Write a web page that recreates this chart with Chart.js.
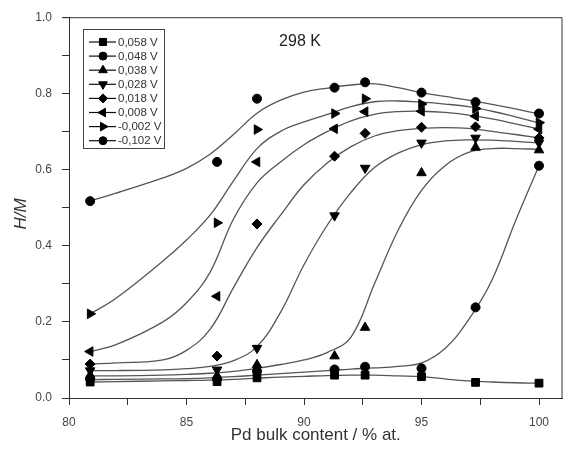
<!DOCTYPE html>
<html>
<head>
<meta charset="utf-8">
<script src="https://cdn.jsdelivr.net/npm/chart.js@4.4.0/dist/chart.umd.min.js"></script>
<style>
  html, body { margin: 0; padding: 0; background: #fff; }
  #wrap { width: 569px; height: 453px; }
</style>
</head>
<body>
<div id="wrap"><canvas id="chart" width="569" height="453"></canvas></div>
<script>
// ---- measured points (Pd bulk content, H/M) ----
const contentX = [80.9, 86.3, 88.0, 91.3, 92.6, 95.0, 97.3, 100.0];
const hm_058  = [0.042, 0.043, 0.053, 0.060, 0.060, 0.056, 0.041, 0.039];
const hm_048  = [0.050, 0.050, 0.070, 0.075, 0.082, 0.078, 0.238, 0.610];
const hm_038  = [0.060, 0.058, 0.087, 0.110, 0.185, 0.591, 0.658, 0.651];
const hm_028  = [0.072, 0.074, 0.131, 0.479, 0.604, 0.670, 0.683, 0.670];
const hm_018  = [0.089, 0.110, 0.457, 0.635, 0.695, 0.711, 0.712, 0.683];
const hm_008  = [0.122, 0.267, 0.620, 0.707, 0.752, 0.753, 0.740, 0.706];
const hm_m002 = [0.221, 0.460, 0.705, 0.747, 0.786, 0.772, 0.760, 0.723];
const hm_m102 = [0.517, 0.620, 0.786, 0.815, 0.829, 0.802, 0.777, 0.747];

// ---- fitted curves ----
const fitX = [80.9, 82, 84, 85, 86, 87, 88, 89, 90, 91, 92, 93, 94, 95, 96, 97, 98, 99, 100];
const fit_058  = [0.042, 0.043, 0.045, 0.046, 0.047, 0.049, 0.052, 0.055, 0.057, 0.059, 0.060, 0.060, 0.058, 0.056, 0.050, 0.045, 0.042, 0.040, 0.039];
const fit_048  = [0.048, 0.049, 0.050, 0.051, 0.053, 0.056, 0.060, 0.064, 0.068, 0.072, 0.076, 0.079, 0.083, 0.092, 0.130, 0.205, 0.310, 0.465, 0.610];
const fit_038  = [0.058, 0.058, 0.060, 0.062, 0.065, 0.070, 0.078, 0.088, 0.100, 0.120, 0.160, 0.300, 0.440, 0.545, 0.610, 0.645, 0.655, 0.655, 0.653];
const fit_028  = [0.072, 0.072, 0.074, 0.077, 0.083, 0.098, 0.135, 0.225, 0.350, 0.455, 0.540, 0.605, 0.643, 0.665, 0.675, 0.678, 0.677, 0.674, 0.670];
const fit_018  = [0.089, 0.092, 0.100, 0.125, 0.180, 0.290, 0.395, 0.480, 0.560, 0.618, 0.660, 0.688, 0.702, 0.708, 0.710, 0.708, 0.700, 0.692, 0.683];
const fit_008  = [0.122, 0.140, 0.200, 0.250, 0.330, 0.470, 0.565, 0.620, 0.665, 0.700, 0.728, 0.745, 0.752, 0.753, 0.750, 0.743, 0.733, 0.720, 0.706];
const fit_m002 = [0.221, 0.262, 0.360, 0.415, 0.480, 0.570, 0.655, 0.700, 0.725, 0.745, 0.765, 0.778, 0.780, 0.777, 0.772, 0.765, 0.753, 0.738, 0.722];
const fit_m102 = [0.517, 0.538, 0.578, 0.603, 0.640, 0.692, 0.748, 0.782, 0.803, 0.814, 0.822, 0.825, 0.815, 0.802, 0.792, 0.782, 0.771, 0.759, 0.746];

const seriesLabels = ['0,058 V', '0,048 V', '0,038 V', '0,028 V', '0,018 V', '0,008 V', '-0,002 V', '-0,102 V'];
const seriesPoints = [hm_058, hm_048, hm_038, hm_028, hm_018, hm_008, hm_m002, hm_m102];
const seriesFits   = [fit_058, fit_048, fit_038, fit_028, fit_018, fit_008, fit_m002, fit_m102];

// ticks
const xTicks = [80, 82.5, 85, 87.5, 90, 92.5, 95, 97.5, 100];
const xTickLabels = ['80', '', '85', '', '90', '', '95', '', '100'];
const yTicks = [0, 0.1, 0.2, 0.3, 0.4, 0.5, 0.6, 0.7, 0.8, 0.9, 1.0];
const yTickLabels = ['0.0', '', '0.2', '', '0.4', '', '0.6', '', '0.8', '', '1.0'];

// marker look per series
const markerStyle  = ['rect', 'circle', 'triangle', 'triangle', 'rectRot', 'triangle', 'triangle', 'circle'];
const markerRot    = [0, 0, 0, 180, 0, 270, 90, 0];
const markerRadius = [5.5, 4.5, 5.5, 5.5, 5, 5.5, 5.5, 4.5];

const FONT = "'Liberation Sans', Arial, sans-serif";
const TXT = '#333';

const toXY = (xs, ys) => xs.map((x, i) => ({ x, y: ys[i] }));

const datasets = [];
seriesLabels.forEach((lab, i) => {
  datasets.push({
    label: lab,
    data: toXY(contentX, seriesPoints[i]),
    showLine: false,
    pointStyle: markerStyle[i],
    rotation: markerRot[i],
    pointRadius: markerRadius[i],
    pointBackgroundColor: '#000',
    pointBorderColor: '#000',
    pointBorderWidth: 1,
    order: 1
  });
  datasets.push({
    label: lab + ' fit',
    data: toXY(fitX, seriesFits[i]),
    showLine: true,
    borderColor: '#555',
    borderWidth: 1.3,
    pointRadius: 0,
    tension: 0.4,
    fill: false,
    order: 2
  });
});

// frame, inner title, y title and inset legend
const decorPlugin = {
  id: 'decor',
  afterDraw(chart) {
    const { ctx, chartArea: a } = chart;
    ctx.save();
    ctx.strokeStyle = '#333';
    ctx.lineWidth = 1;
    ctx.beginPath();
    ctx.moveTo(a.left - 6, a.top + 0.5);
    ctx.lineTo(a.right - 0.5, a.top + 0.5);
    ctx.lineTo(a.right - 0.5, a.bottom);
    ctx.stroke();

    ctx.fillStyle = '#222';
    ctx.font = '16px ' + FONT;
    ctx.textAlign = 'center';
    ctx.textBaseline = 'middle';
    ctx.fillText('298 K', 300, 42);

    ctx.save();
    ctx.translate(21, 214);
    ctx.rotate(-Math.PI / 2);
    ctx.font = 'italic 17px ' + FONT;
    ctx.fillStyle = TXT;
    ctx.fillText('H/M', 0, 0);
    ctx.restore();

    // legend box
    ctx.strokeStyle = '#444';
    ctx.strokeRect(83.5, 29.5, 81, 119);
    ctx.font = '11.5px ' + FONT;
    ctx.textAlign = 'left';
    ctx.fillStyle = TXT;
    seriesLabels.forEach((lab, i) => {
      const y = 42 + i * 14.1;
      ctx.strokeStyle = '#111';
      ctx.lineWidth = 1.2;
      ctx.beginPath();
      ctx.moveTo(89, y);
      ctx.lineTo(116, y);
      ctx.stroke();
      ctx.fillStyle = '#000';
      ctx.strokeStyle = '#000';
      ctx.lineWidth = 1;
      if (Chart.helpers && Chart.helpers.drawPoint) {
        Chart.helpers.drawPoint(ctx, {
          pointStyle: markerStyle[i], rotation: markerRot[i],
          radius: markerRadius[i] - 0.5, borderWidth: 1
        }, 103, y);
      } else {
        ctx.beginPath();
        ctx.arc(103, y, 4, 0, Math.PI * 2);
        ctx.fill();
      }
      ctx.fillStyle = TXT;
      ctx.fillText(lab, 118, y + 0.5);
    });
    ctx.restore();
  }
};

new Chart(document.getElementById('chart'), {
  type: 'scatter',
  data: { datasets },
  plugins: [decorPlugin],
  options: {
    responsive: false,
    animation: false,
    devicePixelRatio: 1,
    layout: { padding: { top: 17, right: 1, left: 0, bottom: 0 } },
    plugins: { legend: { display: false }, tooltip: { enabled: false } },
    scales: {
      x: {
        type: 'linear',
        min: 80,
        max: 101,
        afterFit(s) { s.height = 55; },
        afterBuildTicks(s) { s.ticks = xTicks.map(v => ({ value: v })); },
        ticks: {
          callback: (v, i) => xTickLabels[i],
          font: { size: 12, family: FONT },
          color: '#444',
          padding: 10,
          maxRotation: 0,
          autoSkip: false
        },
        grid: { drawOnChartArea: false, tickLength: 7, color: '#333' },
        border: { color: '#333' },
        title: {
          display: true,
          text: 'Pd bulk content / % at.',
          font: { size: 17, family: FONT },
          color: TXT,
          padding: { top: 0, bottom: 7 }
        }
      },
      y: {
        type: 'linear',
        min: 0,
        max: 1,
        afterFit(s) { s.width = 69; },
        afterBuildTicks(s) { s.ticks = yTicks.map(v => ({ value: v })); },
        ticks: {
          callback: (v, i) => yTickLabels[i],
          font: { size: 12, family: FONT },
          color: '#444',
          padding: 10,
          autoSkip: false
        },
        grid: { drawOnChartArea: false, tickLength: 7, color: '#333' },
        border: { color: '#333' }
      }
    }
  }
});
</script>
</body>
</html>
